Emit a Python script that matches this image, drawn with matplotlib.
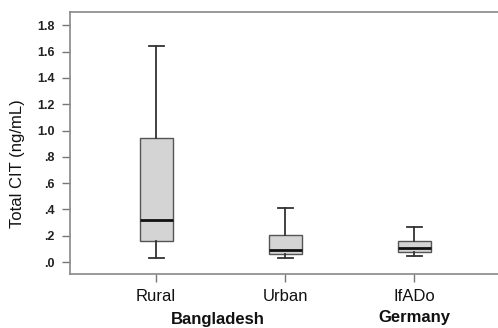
import matplotlib
matplotlib.use("Agg")
from matplotlib import pyplot as plt
import numpy as np

plt.rcParams['font.family'] = ['Liberation Sans', 'DejaVu Sans']

# box statistics (ng/mL)
categories = ["Rural", "Urban", "IfADo"]
whisker_low = [0.03, 0.03, 0.045]
q1 = [0.16, 0.06, 0.075]
median = [0.32, 0.09, 0.105]
q3 = [0.94, 0.205, 0.16]
whisker_high = [1.64, 0.415, 0.265]

y_ticks = [0.0, 0.2, 0.4, 0.6, 0.8, 1.0, 1.2, 1.4, 1.6, 1.8]
y_tick_labels = [".0", ".2", ".4", ".6", ".8", "1.0", "1.2", "1.4", "1.6", "1.8"]

stats = []
for i in range(len(categories)):
    stats.append({"label": categories[i], "whislo": whisker_low[i], "q1": q1[i],
                  "med": median[i], "q3": q3[i], "whishi": whisker_high[i], "fliers": []})

fig = plt.figure(figsize=(4.98, 3.28), dpi=100)
ax = fig.add_axes([0.1406, 0.1646, 0.8594, 0.7988])

positions = [1, 2, 3]
ax.bxp(stats, positions=positions, widths=0.256, capwidths=0.116, patch_artist=True,
       showfliers=False,
       boxprops=dict(facecolor="#d4d4d4", edgecolor="#555555", linewidth=1.0),
       medianprops=dict(color="#111111", linewidth=2.0),
       whiskerprops=dict(color="#333333", linewidth=1.3),
       capprops=dict(color="#333333", linewidth=1.3))

ax.set_xlim(0.333, 3.651)
ax.set_ylim(-0.09, 1.9)

ax.set_yticks(y_ticks)
ax.set_yticklabels(y_tick_labels, fontsize=9, fontweight="bold", color="#222222")
ax.set_xticks(positions)
ax.set_xticklabels(categories, fontsize=12, color="#111111")
ax.tick_params(axis="both", direction="out", length=6, color="#777777", width=1)
ax.tick_params(axis="y", pad=5)
ax.tick_params(axis="x", pad=5)

for side in ["left", "top", "bottom"]:
    ax.spines[side].set_color("#888888")
    ax.spines[side].set_linewidth(1.2)
ax.spines["right"].set_visible(False)

ax.set_ylabel("Total CIT (ng/mL)", fontsize=12, color="#111111")
ax.yaxis.set_label_coords(18 / 498, 0.5, transform=fig.transFigure)
ax.yaxis.label.set_va("center")

# country group labels under the categories
fig.text(218 / 498, 1 - 324 / 328, "Bangladesh", fontsize=12, fontweight="bold",
         ha="center", va="baseline", color="#111111")
fig.text(414 / 498, 1 - 322 / 328, "Germany", fontsize=12, fontweight="bold",
         ha="center", va="baseline", color="#111111")

fig.savefig("out.png", dpi=100)
